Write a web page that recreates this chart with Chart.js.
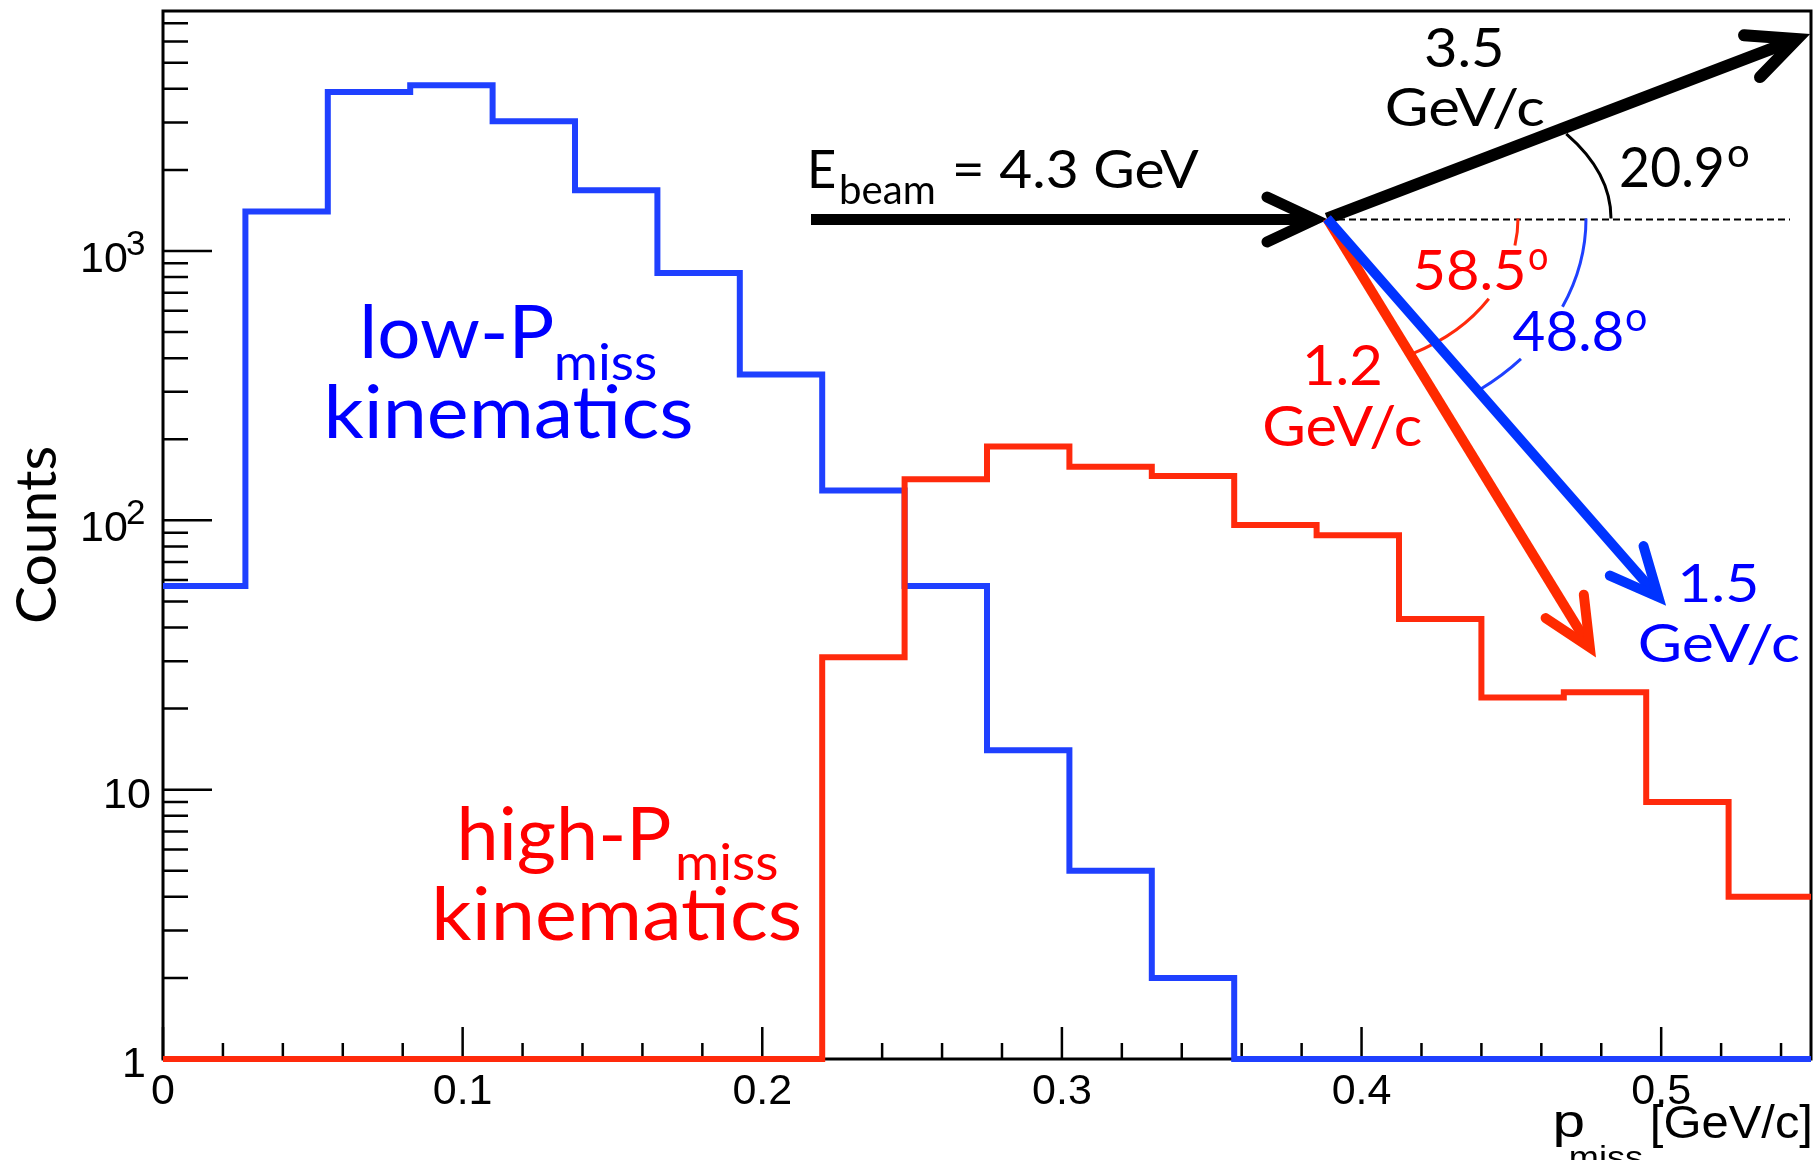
<!DOCTYPE html>
<html>
<head>
<meta charset="utf-8">
<script src="https://cdn.jsdelivr.net/npm/chart.js@4.4.1/dist/chart.umd.min.js"></script>
<style>
  html, body { margin: 0; padding: 0; background: #fff; }
  canvas { display: block; }
</style>
</head>
<body>
<canvas id="pmissChart" width="1814" height="1160"></canvas>
<script>
// ── Data ───────────────────────────────────────────────────────────────────
const BIN_EDGES = [0, 0.0275, 0.055, 0.0825, 0.11, 0.1375, 0.165, 0.1925, 0.22, 0.2475,
                   0.275, 0.3025, 0.33, 0.3575, 0.385, 0.4125, 0.44, 0.4675, 0.495, 0.5225, 0.55];
const LOW_PMISS  = [57, 1400, 3890, 4120, 3030, 1680, 828, 348, 129, 57, 14, 5, 2, 0, 0, 0, 0, 0, 0, 0];
const HIGH_PMISS = [0, 0, 0, 0, 0, 0, 0, 0, 31, 142, 188, 158, 146, 96, 88, 43, 22, 23, 9, 4];
const X_TICKS = [0, 0.1, 0.2, 0.3, 0.4, 0.5];
const X_TICK_LABELS = ['0', '0.1', '0.2', '0.3', '0.4', '0.5'];
const Y_TICKS = [1, 10, 100, 1000];
const Y_TICK_BASES = ['1', '10', '10', '10'];
const Y_TICK_EXPONENTS = ['', '', '2', '3'];
const Y_MIN = 1;
const Y_MAX = 7780;

// kinematics sketch: scattering angles (deg)
const ANGLE_PROTON = 20.9;
const ANGLE_HIGH = 58.5;
const ANGLE_LOW = 48.8;

// ── Styles ─────────────────────────────────────────────────────────────────
const BLUE_LINE = '#1f40ff';
const RED_LINE = '#ff2a0c';
const BLUE_TEXT = '#0000ff';
const RED_TEXT = '#ff0000';
const ANNO_FONT = 'Lato';
const AXIS_FONT = '"Liberation Sans", Arial, sans-serif';

function histPoints(counts) {
  // stepped outline; empty bins sit on the axis floor of the log scale
  const pts = counts.map((c, i) => ({ x: BIN_EDGES[i], y: c > 0 ? c : Y_MIN }));
  pts.push({ x: BIN_EDGES[counts.length], y: pts[pts.length - 1].y });
  return pts;
}

// ink-aligned text, squeezed to the measured width
function fitText(ctx, str, x, base, size, width, color, family) {
  ctx.save();
  ctx.font = `${size}px ${family || ANNO_FONT}`;
  ctx.textAlign = 'left';
  ctx.textBaseline = 'alphabetic';
  const m = ctx.measureText(str);
  const ink = m.actualBoundingBoxLeft + m.actualBoundingBoxRight;
  const sx = width ? width / ink : 1;
  ctx.translate(x + m.actualBoundingBoxLeft * sx, base);
  ctx.scale(sx, 1);
  ctx.fillStyle = color;
  ctx.fillText(str, 0, 0);
  ctx.restore();
}

// text whose ink ends at x
function inkRight(ctx, str, x, base, size) {
  ctx.save();
  ctx.font = `${size}px ${AXIS_FONT}`;
  ctx.textAlign = 'left';
  ctx.textBaseline = 'alphabetic';
  const m = ctx.measureText(str);
  ctx.fillStyle = '#000';
  ctx.fillText(str, x - m.actualBoundingBoxRight, base);
  ctx.restore();
}

function arrow(ctx, x0, y0, deg, len, color, w) {
  const r = deg * Math.PI / 180;
  const x1 = x0 + len * Math.cos(r), y1 = y0 + len * Math.sin(r);
  const head = 53, spread = 25 * Math.PI / 180;
  ctx.save();
  ctx.strokeStyle = color;
  ctx.lineWidth = w;
  ctx.lineCap = 'butt';
  ctx.beginPath();
  ctx.moveTo(x0, y0);
  ctx.lineTo(x1, y1);
  ctx.stroke();
  ctx.lineCap = 'round';
  ctx.lineJoin = 'miter';
  ctx.beginPath();
  ctx.moveTo(x1 - head * Math.cos(r - spread), y1 - head * Math.sin(r - spread));
  ctx.lineTo(x1, y1);
  ctx.lineTo(x1 - head * Math.cos(r + spread), y1 - head * Math.sin(r + spread));
  ctx.stroke();
  ctx.restore();
}

function arcs(ctx, cx, cy, a, b, segs, color) {
  ctx.save();
  ctx.strokeStyle = color;
  ctx.lineWidth = 3;
  segs.forEach(([s, e]) => {
    ctx.beginPath();
    ctx.ellipse(cx, cy, a, b, 0, s * Math.PI / 180, e * Math.PI / 180);
    ctx.stroke();
  });
  ctx.restore();
}

// ── ROOT-like frame with inner ticks ───────────────────────────────────────
const framePlugin = {
  id: 'rootFrame',
  beforeDatasetsDraw(chart) {
    const { ctx, chartArea: a, scales: { x, y } } = chart;
    ctx.save();
    ctx.strokeStyle = '#000';
    ctx.lineWidth = 2.5;
    ctx.beginPath();
    for (let i = 0; i <= 27; i++) {
      const px = x.getPixelForValue(i * 0.02);
      ctx.moveTo(px, a.bottom);
      ctx.lineTo(px, a.bottom - (i % 5 === 0 ? 32 : 16));
    }
    for (let d = 1; d <= 1000; d *= 10) {
      for (let k = 1; k <= 9; k++) {
        if (d * k > Y_MAX) break;
        const py = y.getPixelForValue(d * k);
        ctx.moveTo(a.left, py);
        ctx.lineTo(a.left + (k === 1 ? 49 : 25), py);
      }
    }
    ctx.stroke();
    ctx.lineWidth = 3;
    ctx.strokeRect(a.left, a.top, a.right - a.left, a.bottom - a.top);
    ctx.restore();

    // y tick labels with superscript exponents
    Y_TICKS.forEach((v, i) => {
      const py = y.getPixelForValue(v);
      if (Y_TICK_EXPONENTS[i]) {
        inkRight(ctx, Y_TICK_BASES[i], 127, py + 21, 43);
        inkRight(ctx, Y_TICK_EXPONENTS[i], 144, py + 4, 35);
      } else {
        inkRight(ctx, Y_TICK_BASES[i], i === 0 ? 144 : 150, py + 18, 43);
      }
    });
  },
  afterDraw(chart) {
    const { ctx } = chart;
    // x-axis title
    fitText(ctx, 'p', 1555, 1137, 46, 28, '#000', AXIS_FONT);
    fitText(ctx, 'miss', 1571, 1168, 32, 71, '#000', AXIS_FONT);
    fitText(ctx, '[GeV/c]', 1653, 1138, 46, 157, '#000', AXIS_FONT);
  }
};

// ── Kinematics sketch + labels ─────────────────────────────────────────────
const sketchPlugin = {
  id: 'sketch',
  afterDatasetsDraw(chart) {
    const { ctx } = chart;
    const vx = 1327, vy = 218.5;

    // dashed beam axis
    ctx.save();
    ctx.strokeStyle = '#000';
    ctx.lineWidth = 2;
    ctx.setLineDash([7, 4]);
    ctx.beginPath();
    ctx.moveTo(vx, vy + 1);
    ctx.lineTo(1790, vy + 1);
    ctx.stroke();
    ctx.restore();

    // angle arcs
    arcs(ctx, vx, vy, 284, 157, [[-32.6, 0]], '#000');
    arcs(ctx, vx, vy, 191, 151, [[0, 10.3], [32.1, 63.2]], RED_LINE);
    arcs(ctx, vx, vy, 259, 212, [[0, 24.6], [41.5, 53.8]], BLUE_LINE);

    // arrows
    arrow(ctx, 811, vy + 1, 0, 504, '#000', 11);
    arrow(ctx, vx, vy, -ANGLE_PROTON, 503, '#000', 12);
    arrow(ctx, vx, vy, ANGLE_HIGH, 503, '#ff2a00', 10);
    arrow(ctx, vx, vy, ANGLE_LOW, 503, '#0033ff', 10);

    // sketch labels
    fitText(ctx, 'E', 811, 188.3, 52, 23.4, '#000');
    fitText(ctx, 'beam', 841, 204, 41, 93, '#000');
    fitText(ctx, '= 4.3 GeV', 955, 188.3, 52, 244.5, '#000');
    fitText(ctx, '3.5', 1426, 66.5, 55, 75.5, '#000');
    fitText(ctx, 'GeV/c', 1387, 126, 53, 156.5, '#000');
    fitText(ctx, ANGLE_PROTON.toFixed(1), 1621, 187, 57, 101, '#000');
    fitText(ctx, 'o', 1728, 167.3, 40, 20, '#000');
    fitText(ctx, ANGLE_HIGH.toFixed(1), 1415.5, 289.6, 57, 108, RED_TEXT);
    fitText(ctx, 'o', 1529, 269.8, 40, 18, RED_TEXT);
    fitText(ctx, '1.2', 1306, 385, 57, 73.7, RED_TEXT);
    fitText(ctx, 'GeV/c', 1264.4, 446, 57, 156.5, RED_TEXT);
    fitText(ctx, ANGLE_LOW.toFixed(1), 1512.6, 350.7, 57, 109.7, BLUE_TEXT);
    fitText(ctx, 'o', 1626, 331, 40, 19.7, BLUE_TEXT);
    fitText(ctx, '1.5', 1681.7, 601.7, 52, 74, BLUE_TEXT);
    fitText(ctx, 'GeV/c', 1640, 661.7, 52, 159, BLUE_TEXT);

    // sample labels
    fitText(ctx, 'low-P', 364.5, 358.3, 74, 188.4, BLUE_TEXT);
    fitText(ctx, 'miss', 557, 380, 50, 98.5, BLUE_TEXT);
    fitText(ctx, 'kinematics', 328.8, 438.3, 74, 362.5, BLUE_TEXT);
    fitText(ctx, 'high-P', 461.7, 860, 74, 208.3, RED_TEXT);
    fitText(ctx, 'miss', 678.3, 880, 50, 98.4, RED_TEXT);
    fitText(ctx, 'kinematics', 436.7, 940, 74, 363.3, RED_TEXT);
  }
};

// ── Chart ──────────────────────────────────────────────────────────────────
new Chart(document.getElementById('pmissChart'), {
  type: 'line',
  data: {
    datasets: [
      {
        label: 'high-Pmiss',
        data: histPoints(HIGH_PMISS),
        borderColor: RED_LINE,
        borderWidth: 6,
        stepped: 'before',
        pointRadius: 0,
        fill: false,
        clip: false
      },
      {
        label: 'low-Pmiss',
        data: histPoints(LOW_PMISS),
        borderColor: BLUE_LINE,
        borderWidth: 6,
        stepped: 'before',
        pointRadius: 0,
        fill: false,
        clip: false
      }
    ]
  },
  options: {
    responsive: false,
    animation: false,
    devicePixelRatio: 1,
    layout: { padding: { top: 11, right: 3, left: 0, bottom: 0 } },
    plugins: {
      legend: { display: false },
      tooltip: { enabled: false }
    },
    scales: {
      x: {
        type: 'linear',
        min: 0,
        max: 0.55,
        afterBuildTicks: s => { s.ticks = X_TICKS.map(v => ({ value: v })); },
        afterFit: s => { s.height = 101; s.paddingLeft = 0; s.paddingRight = 0; },
        grid: { display: false, drawTicks: false },
        border: { display: false },
        ticks: {
          autoSkip: false,
          maxRotation: 0,
          padding: 7,
          color: '#000',
          font: { family: AXIS_FONT, size: 43 },
          callback: (v, i) => X_TICK_LABELS[i]
        }
      },
      y: {
        type: 'logarithmic',
        min: Y_MIN,
        max: Y_MAX,
        afterBuildTicks: s => { s.ticks = Y_TICKS.map(v => ({ value: v })); },
        afterFit: s => { s.width = 163; s.paddingTop = 0; s.paddingBottom = 0; },
        grid: { display: false, drawTicks: false },
        border: { display: false },
        title: {
          display: true,
          text: 'Counts',
          color: '#000',
          font: { family: ANNO_FONT, size: 57 },
          padding: { top: 3, bottom: 0 }
        },
        ticks: { display: false }
      }
    }
  },
  plugins: [framePlugin, sketchPlugin]
});
</script>
</body>
</html>
